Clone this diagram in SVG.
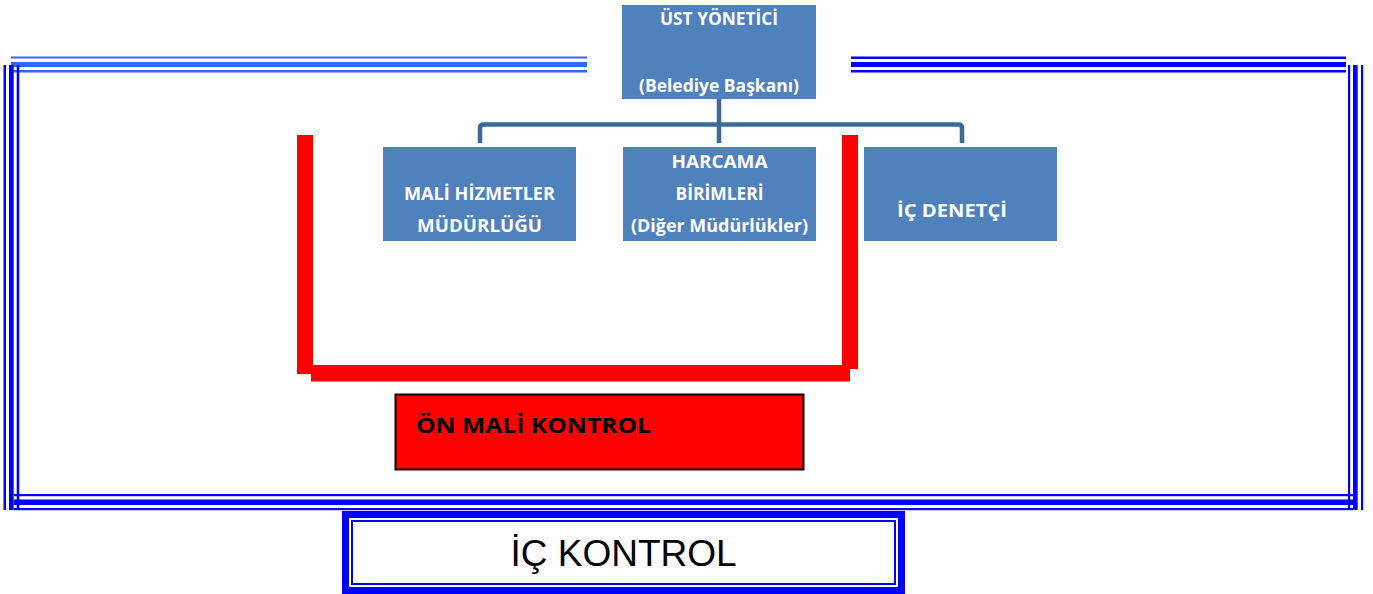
<svg xmlns="http://www.w3.org/2000/svg" width="1373" height="594" viewBox="0 0 1373 594">
<style>
.box{fill:#4f81bd;}
.t{font-family:"Open Sans","Noto Sans",sans-serif;font-weight:bold;font-size:17px;fill:#ffffff;text-anchor:middle;}
.b1{fill:#0000ff;}
.b2{fill:#3366ff;}
.conn{fill:none;stroke:#3e6897;stroke-width:4.5;stroke-linejoin:round;}
.red{fill:#ff0000;}
</style>
<rect width="1373" height="594" fill="#ffffff"/>
<g id="frame">
  <rect class="b2" x="11" y="56.5" width="576" height="2"/>
  <rect class="b2" x="11" y="62" width="576" height="5"/>
  <rect class="b2" x="11" y="70" width="576" height="2.5"/>
  <rect class="b1" x="851" y="56.5" width="495" height="2.5"/>
  <rect class="b1" x="851" y="62" width="495" height="5"/>
  <rect class="b1" x="851" y="70" width="495" height="2.5"/>
  <rect class="b1" x="3.5" y="65" width="2.5" height="445"/>
  <rect class="b1" x="9" y="65" width="4.7" height="445"/>
  <rect class="b1" x="16.7" y="65" width="2.6" height="445"/>
  <rect class="b1" x="1348" y="65" width="2.2" height="445"/>
  <rect class="b1" x="1353" y="65" width="4.7" height="445"/>
  <rect class="b1" x="1361" y="65" width="2.2" height="445"/>
  <rect class="b1" x="14" y="494" width="1339" height="2.2"/>
  <rect class="b1" x="14" y="499.5" width="1339" height="5.5"/>
  <rect class="b1" x="14" y="508" width="1339" height="2.2"/>
</g>
<g id="connectors">
  <path class="conn" d="M719,99 V143"/>
  <path class="conn" d="M480,143 V128 Q480,124.5 484,124.5 H958 Q962,124.5 962,128 V143"/>
</g>
<g id="bracket">
  <rect class="red" x="297" y="135" width="16" height="239"/>
  <rect class="red" x="842" y="135" width="16" height="234"/>
  <rect class="red" x="311" y="365" width="539" height="16.5"/>
</g>
<g id="ust">
  <rect class="box" x="622" y="5" width="194" height="94"/>
  <text class="t" x="719" y="25" textLength="118" lengthAdjust="spacingAndGlyphs">ÜST YÖNETİCİ</text>
  <text class="t" x="719" y="92" textLength="160" lengthAdjust="spacingAndGlyphs">(Belediye Başkanı)</text>
</g>
<g id="mali">
  <rect class="box" x="383" y="147" width="193" height="94"/>
  <text class="t" x="479.5" y="200" textLength="151" lengthAdjust="spacingAndGlyphs">MALİ HİZMETLER</text>
  <text class="t" x="479.5" y="232" textLength="125" lengthAdjust="spacingAndGlyphs">MÜDÜRLÜĞÜ</text>
</g>
<g id="harcama">
  <rect class="box" x="623" y="147" width="193" height="94"/>
  <text class="t" x="719.5" y="168" textLength="96" lengthAdjust="spacingAndGlyphs">HARCAMA</text>
  <text class="t" x="719.5" y="200" textLength="88" lengthAdjust="spacingAndGlyphs">BİRİMLERİ</text>
  <text class="t" x="719.5" y="232" textLength="177" lengthAdjust="spacingAndGlyphs">(Diğer Müdürlükler)</text>
</g>
<g id="denetci">
  <rect class="box" x="864" y="147" width="193" height="94"/>
  <text class="t" x="952" y="217" textLength="110" lengthAdjust="spacingAndGlyphs">İÇ DENETÇİ</text>
</g>
<g id="onmali">
  <rect x="395.5" y="394.5" width="408" height="75" fill="#ff0000" stroke="#000000" stroke-width="2"/>
  <text x="416" y="433" font-family="Open Sans, Noto Sans, sans-serif" font-weight="bold" font-size="22" fill="#000000" textLength="235" lengthAdjust="spacingAndGlyphs">ÖN MALİ KONTROL</text>
</g>
<g id="ickontrol">
  <rect x="345.5" y="514.5" width="556" height="76" fill="#ffffff" stroke="#0000ff" stroke-width="7"/>
  <rect x="352" y="521" width="543" height="63" fill="none" stroke="#0000ff" stroke-width="2"/>
  <text x="623.5" y="566" font-family="Liberation Sans, Arial, sans-serif" font-size="37" fill="#000000" text-anchor="middle">İÇ KONTROL</text>
</g>
</svg>
